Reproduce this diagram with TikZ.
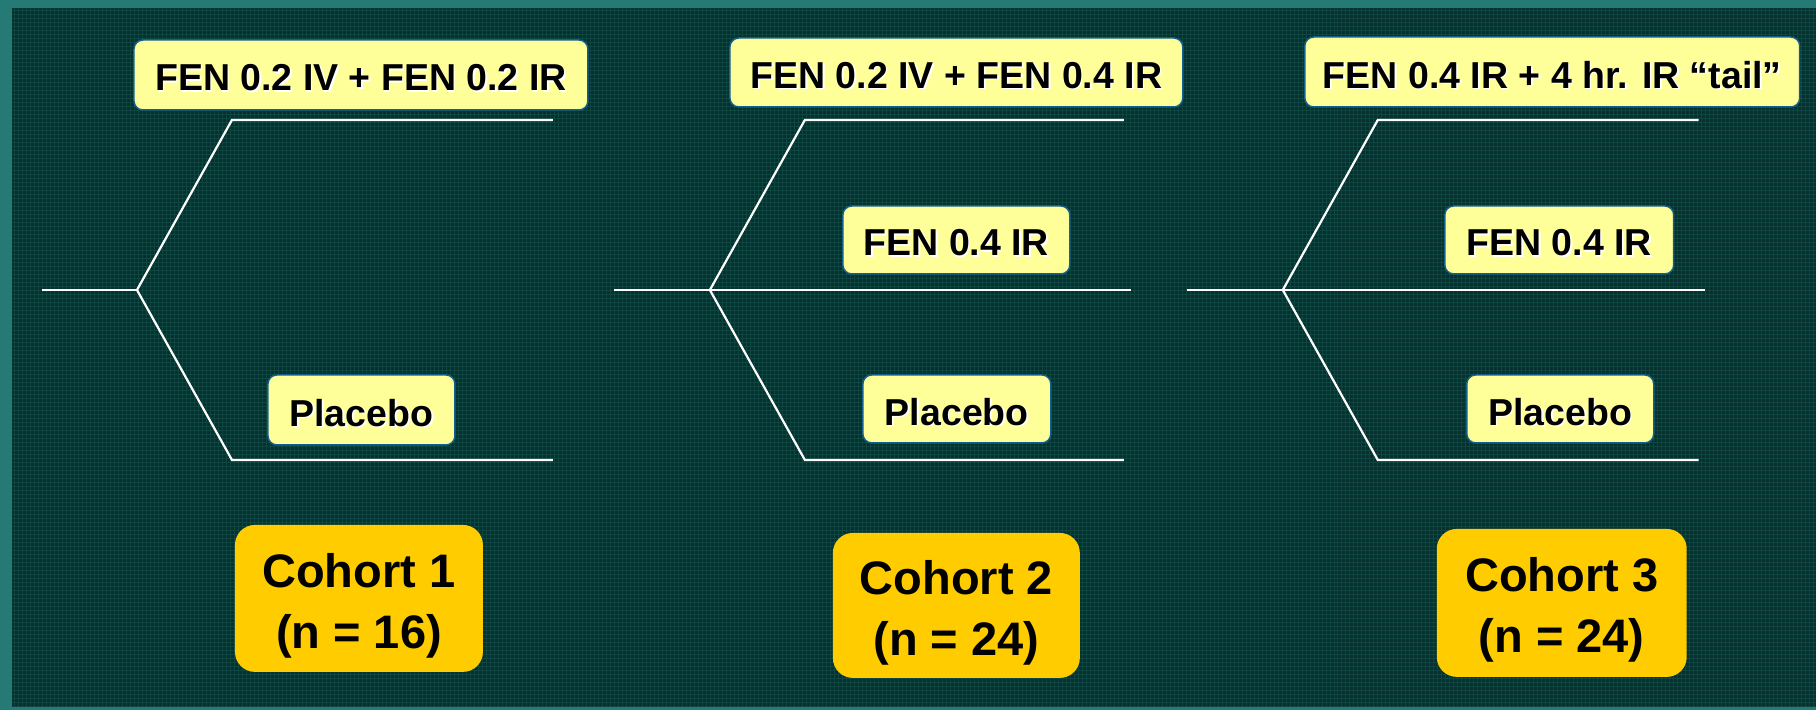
\documentclass[tikz,border=0pt]{standalone}
\usepackage{fontspec}
\setmainfont{Liberation Sans}
\definecolor{framecol}{RGB}{38,122,118}
\definecolor{bgcol}{RGB}{5,48,45}
\definecolor{gridcol}{RGB}{16,70,66}
\definecolor{labfill}{RGB}{255,255,153}
\definecolor{labborder}{RGB}{20,96,140}
\definecolor{cohfill}{RGB}{255,204,0}
\newcommand\shtext[1]{\raisebox{-3.5pt}[\height][\depth]{\rlap{\kern1.6pt\raisebox{-1.6pt}{\textcolor{white}{#1}}}#1}}
\newcommand\cohtext[2]{\raisebox{-7pt}[\height][\depth]{\begin{tabular}{@{}c@{}}#1\\#2\end{tabular}}}
\begin{document}
\begin{tikzpicture}[x=1pt,y=-1pt,
  lab/.style={draw=labborder, line width=1.5pt, fill=labfill, rounded corners=9pt,
    inner sep=0pt, text=black, font=\bfseries\fontsize{37.5}{44}\selectfont},
  coh/.style={fill=cohfill, rounded corners=20pt, inner sep=0pt,
    text=black, font=\bfseries\fontsize{47}{61}\selectfont},
  br/.style={draw=white, line width=2.2pt, line join=miter}]
% background and frame
\fill[framecol] (0,0) rectangle (1816,710);
\fill[bgcol] (12,8) rectangle (1816,707);
\begin{scope}[draw=gridcol, line width=0.6pt]
\foreach \i in {14,18,...,1814} \draw (\i,8) -- (\i,707);
\foreach \j in {10,14,...,706} \draw (12,\j) -- (1816,\j);
\end{scope}
\useasboundingbox (0,0) rectangle (1816,710);

% ---------- Cohort 1 ----------
\coordinate (s1) at (42,290);
\coordinate (j1) at (137,290);
\coordinate (u1) at (232,120);
\coordinate (d1) at (232,460);
\coordinate (ue1) at (553,120);
\coordinate (de1) at (553,460);
\draw[br] (s1) -- (j1);
\draw[br] (j1) -- (u1) -- (ue1);
\draw[br] (j1) -- (d1) -- (de1);
\node[lab, minimum width=454pt, minimum height=70pt] (t1) at (361,75) {\shtext{FEN 0.2 IV + FEN 0.2 IR}};
\node[lab, minimum width=187pt, minimum height=70pt] (p1) at (361.5,410) {\shtext{Placebo}};
\node[coh, minimum width=248pt, minimum height=147pt] (c1) at (359,598.5) {\cohtext{Cohort 1}{(n = 16)}};

% ---------- Cohort 2 ----------
\coordinate (s2) at (614,290);
\coordinate (j2) at (710,290);
\coordinate (u2) at (805,120);
\coordinate (d2) at (805,460);
\coordinate (ue2) at (1124,120);
\coordinate (me2) at (1131,290);
\coordinate (de2) at (1124,460);
\draw[br] (s2) -- (me2);
\draw[br] (j2) -- (u2) -- (ue2);
\draw[br] (j2) -- (d2) -- (de2);
\node[lab, minimum width=453pt, minimum height=69pt] (t2) at (956.5,72.5) {\shtext{FEN 0.2 IV + FEN 0.4 IR}};
\node[lab, minimum width=227pt, minimum height=68pt] (m2) at (956.5,240) {\shtext{FEN 0.4 IR}};
\node[lab, minimum width=188pt, minimum height=68pt] (p2) at (957,409) {\shtext{Placebo}};
\node[coh, minimum width=247pt, minimum height=145pt] (c2) at (956.5,605.5) {\cohtext{Cohort 2}{(n = 24)}};

% ---------- Cohort 3 ----------
\coordinate (s3) at (1187,290);
\coordinate (j3) at (1283,290);
\coordinate (u3) at (1378,120);
\coordinate (d3) at (1378,460);
\coordinate (ue3) at (1699,120);
\coordinate (me3) at (1705,290);
\coordinate (de3) at (1699,460);
\draw[br] (s3) -- (me3);
\draw[br] (j3) -- (u3) -- (ue3);
\draw[br] (j3) -- (d3) -- (de3);
\node[lab, minimum width=495pt, minimum height=70pt] (t3) at (1552.5,72) {\shtext{FEN 0.4 IR + 4 hr. IR “tail”}};
\node[lab, minimum width=229pt, minimum height=68pt] (m3) at (1559.5,240) {\shtext{FEN 0.4 IR}};
\node[lab, minimum width=187pt, minimum height=68pt] (p3) at (1560.5,409) {\shtext{Placebo}};
\node[coh, minimum width=250pt, minimum height=148pt] (c3) at (1562,603) {\cohtext{Cohort 3}{(n = 24)}};
\end{tikzpicture}
\end{document}
